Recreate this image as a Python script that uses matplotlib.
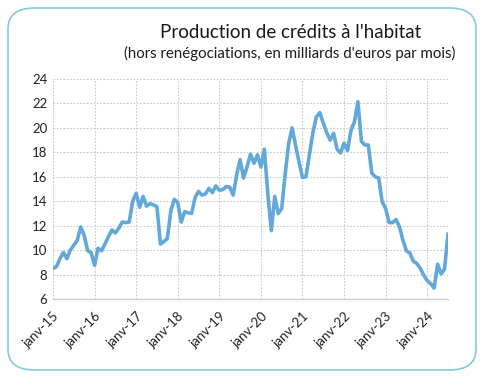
#!/usr/bin/env python3
# Production de credits a l'habitat - monthly line chart
import matplotlib
matplotlib.use("Agg")
import matplotlib.pyplot as plt
from matplotlib.patches import FancyBboxPatch

# DATA (milliards d'euros par mois, janv-2015 -> juil-2024)
values_2015 = [8.5, 8.65, 9.3, 9.8, 9.3, 10.0, 10.4, 10.8, 11.9, 11.2, 9.95, 9.8]
values_2016 = [8.75, 10.15, 9.95, 10.5, 11.1, 11.65, 11.4, 11.8, 12.3, 12.25, 12.3, 14.0]
values_2017 = [14.65, 13.5, 14.4, 13.6, 13.8, 13.7, 13.55, 10.5, 10.7, 10.95, 13.2, 14.15]
values_2018 = [13.9, 12.3, 13.15, 13.05, 13.0, 14.3, 14.8, 14.5, 14.6, 15.05, 14.7, 15.25]
values_2019 = [14.9, 14.95, 15.2, 15.15, 14.5, 16.15, 17.4, 15.9, 16.8, 17.85, 17.1, 17.8]
values_2020 = [16.8, 18.25, 14.6, 11.6, 14.4, 13.0, 13.4, 16.2, 18.7, 20.0, 18.6, 17.2]
values_2021 = [15.95, 16.0, 17.8, 19.6, 20.9, 21.25, 20.4, 19.6, 19.0, 19.55, 18.25, 17.95]
values_2022 = [18.75, 18.15, 19.8, 20.5, 22.15, 18.9, 18.6, 18.6, 16.3, 16.0, 15.9, 13.95]
values_2023 = [13.4, 12.25, 12.25, 12.5, 11.9, 10.8, 9.95, 9.75, 9.1, 8.9, 8.5, 7.95]
values_2024 = [7.5, 7.25, 6.9, 8.85, 8.05, 8.45, 11.3]

year_labels = ["janv-15", "janv-16", "janv-17", "janv-18", "janv-19",
               "janv-20", "janv-21", "janv-22", "janv-23", "janv-24"]
y_ticks = [6, 8, 10, 12, 14, 16, 18, 20, 22, 24]

title = "Production de crédits à l'habitat"
subtitle = "(hors renégociations, en milliards d'euros par mois)"

series = (values_2015 + values_2016 + values_2017 + values_2018 + values_2019
          + values_2020 + values_2021 + values_2022 + values_2023 + values_2024)
months = list(range(len(series)))

plt.rcParams["font.family"] = ["Lato", "DejaVu Sans"]

fig = plt.figure(figsize=(4.86, 3.78), dpi=100)
fig.patch.set_facecolor("white")

# rounded frame around the whole chart
frame = FancyBboxPatch((8 / 486, 8 / 378), 468 / 486, 362 / 378,
                       boxstyle="round,pad=0,rounding_size=0.055",
                       transform=fig.transFigure, facecolor="none",
                       edgecolor="#86C9DA", linewidth=1.2)
fig.patches.append(frame)

fig.text(291 / 486, 1 - 32 / 378, title, ha="center", va="center",
         fontsize=13.5, color="#1a1a1a")
fig.text(290 / 486, 1 - 53 / 378, subtitle, ha="center", va="center",
         fontsize=10.8, color="#1a1a1a")

ax = fig.add_axes([53 / 486, 1 - 299 / 378, 395 / 486, 220 / 378])
ax.plot(months, series, color="#62A8DA", linewidth=2.6, solid_joinstyle="round")

ax.set_xlim(0, len(series) - 1)
ax.set_ylim(6, 24)
ax.set_yticks(y_ticks)
ax.set_yticklabels([str(v) for v in y_ticks], fontsize=9.5, color="#222222")
ax.set_xticks(list(range(0, 12 * len(year_labels), 12)))
ax.set_xticklabels(year_labels, rotation=45, ha="right", rotation_mode="anchor",
                   fontsize=9.5, color="#222222")

ax.grid(True, color="#C8C8C8", linestyle=(0, (1.5, 1.5)), linewidth=0.8)
ax.set_axisbelow(True)
for side in ["top", "right", "left"]:
    ax.spines[side].set_visible(False)
ax.spines["bottom"].set_color("#D0D0D0")
ax.spines["bottom"].set_linewidth(1.0)
ax.tick_params(axis="both", length=0, pad=4)
ax.tick_params(axis="x", pad=8)

fig.savefig("out.png", dpi=100)
